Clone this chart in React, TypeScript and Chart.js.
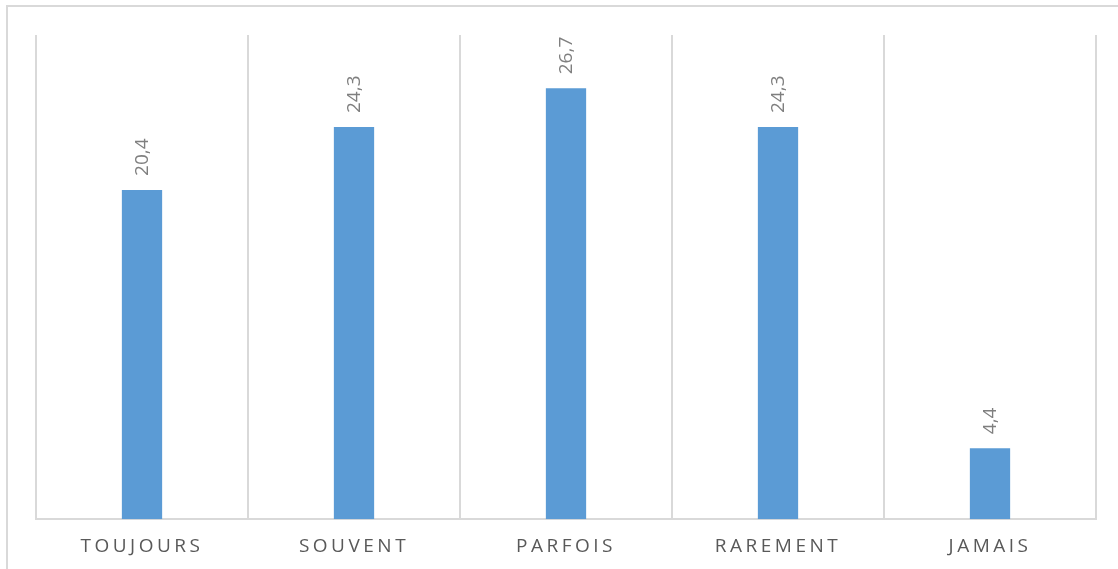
import React, { useEffect, useRef } from "react";
import { Chart, registerables } from "chart.js";

Chart.register(...registerables);

// Response categories and their shares (%)
const categories = ["TOUJOURS", "SOUVENT", "PARFOIS", "RAREMENT", "JAMAIS"];
const shares = [20.4, 24.3, 26.7, 24.3, 4.4];
const axisMax = 30;

const FONT = "'Open Sans', 'Noto Sans', sans-serif";

// Spaced-out capitals on the category axis, normal spacing elsewhere
const letterSpacingPlugin = {
  id: "axisLetterSpacing",
  beforeDraw(chart: any) {
    (chart.ctx as any).letterSpacing = "3.5px";
  },
  beforeDatasetsDraw(chart: any) {
    (chart.ctx as any).letterSpacing = "0px";
  },
};

// Vertical value labels above each bar, French decimal comma
const valueLabelPlugin = {
  id: "valueLabels",
  afterDatasetsDraw(chart: any) {
    const ctx = chart.ctx as CanvasRenderingContext2D;
    const meta = chart.getDatasetMeta(0);
    const data = chart.data.datasets[0].data as number[];
    ctx.save();
    (ctx as any).letterSpacing = "0px";
    ctx.font = `19px ${FONT}`;
    ctx.fillStyle = "#7f7f7f";
    ctx.textAlign = "left";
    ctx.textBaseline = "middle";
    meta.data.forEach((bar: any, i: number) => {
      const text = data[i].toFixed(1).replace(".", ",");
      ctx.save();
      ctx.translate(bar.x + 1, bar.y - 14);
      ctx.rotate(-Math.PI / 2);
      ctx.fillText(text, 0, 0);
      ctx.restore();
    });
    ctx.restore();
  },
};

export default function App() {
  const canvasRef = useRef<HTMLCanvasElement | null>(null);

  useEffect(() => {
    if (!canvasRef.current) return;
    const chart = new Chart(canvasRef.current, {
      type: "bar",
      data: {
        labels: categories,
        datasets: [
          {
            data: shares,
            backgroundColor: "#5b9bd5",
            borderWidth: 0,
            barPercentage: 0.19,
            categoryPercentage: 1,
          },
        ],
      },
      options: {
        responsive: false,
        animation: false,
        layout: { padding: { left: 36, right: 22, top: 35, bottom: -5 } },
        plugins: {
          legend: { display: false },
          tooltip: { enabled: false },
        },
        scales: {
          x: {
            offset: true,
            grid: {
              offset: true,
              color: "#d9d9d9",
              lineWidth: 2,
              drawTicks: false,
            },
            border: { display: true, color: "#d9d9d9", width: 2 },
            ticks: {
              color: "#595959",
              font: { family: FONT, size: 19 },
              padding: 16,
              maxRotation: 0,
            },
          },
          y: {
            display: false,
            min: 0,
            max: axisMax,
          },
        },
      },
      plugins: [letterSpacingPlugin, valueLabelPlugin],
    });
    return () => chart.destroy();
  }, []);

  return (
    <div
      style={{
        position: "fixed",
        left: 0,
        top: 0,
        width: 1118,
        height: 569,
        overflow: "hidden",
        background: "#ffffff",
      }}
    >
      <div
        style={{
          position: "absolute",
          left: 6,
          top: 5,
          width: 1200,
          height: 700,
          borderTop: "2px solid #d9d9d9",
          borderLeft: "2px solid #d9d9d9",
        }}
      />
      <canvas
        ref={canvasRef}
        width={1118}
        height={569}
        style={{ position: "absolute", left: 0, top: 0, width: 1118, height: 569 }}
      />
    </div>
  );
}
